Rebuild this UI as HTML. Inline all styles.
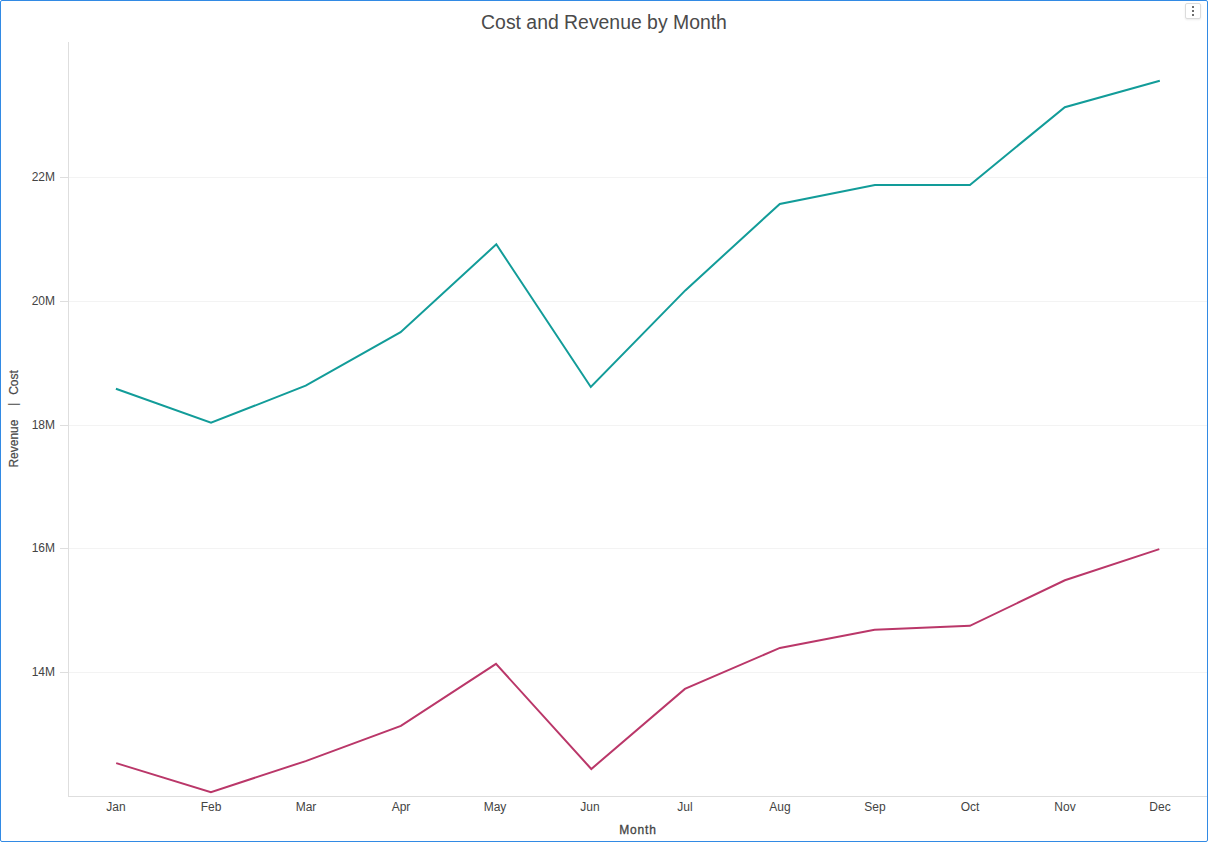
<!DOCTYPE html>
<html>
<head>
<meta charset="utf-8">
<style>
html,body{margin:0;padding:0;background:#fff;}
body{width:1208px;height:842px;overflow:hidden;position:relative;font-family:"Liberation Sans",sans-serif;}
.frame{position:absolute;left:0;top:0;width:1206px;height:840px;border:1px solid #328ae4;border-radius:2px;background:#fff;}
svg{position:absolute;left:0;top:0;}
.menu{position:absolute;left:1185px;top:3px;width:14px;height:14px;border:1px solid #dcdcdc;border-radius:2px;background:#fff;box-shadow:0 1px 2px rgba(0,0,0,0.08);}
.menu i{position:absolute;left:6px;width:2px;height:2px;background:#6e6e6e;}
</style>
</head>
<body>
<div class="frame"></div>
<svg width="1208" height="842" viewBox="0 0 1208 842">
  <g stroke="#f3f3f3" stroke-width="1" shape-rendering="crispEdges">
    <line x1="68" y1="177.5" x2="1207" y2="177.5"/>
    <line x1="68" y1="301.5" x2="1207" y2="301.5"/>
    <line x1="68" y1="425.5" x2="1207" y2="425.5"/>
    <line x1="68" y1="548.5" x2="1207" y2="548.5"/>
    <line x1="68" y1="672.5" x2="1207" y2="672.5"/>
  </g>
  <g stroke="#dedede" stroke-width="1" shape-rendering="crispEdges">
    <line x1="60" y1="177.5" x2="68" y2="177.5"/>
    <line x1="60" y1="301.5" x2="68" y2="301.5"/>
    <line x1="60" y1="425.5" x2="68" y2="425.5"/>
    <line x1="60" y1="548.5" x2="68" y2="548.5"/>
    <line x1="60" y1="672.5" x2="68" y2="672.5"/>
    <line x1="68.5" y1="42" x2="68.5" y2="797"/>
    <line x1="68" y1="796.5" x2="1207" y2="796.5"/>
  </g>
  <g font-family="Liberation Sans, sans-serif" font-size="12" fill="#444" text-anchor="end">
    <text x="55" y="181">22M</text>
    <text x="55" y="305">20M</text>
    <text x="55" y="429">18M</text>
    <text x="55" y="552">16M</text>
    <text x="55" y="676">14M</text>
  </g>
  <g font-family="Liberation Sans, sans-serif" font-size="12" fill="#444" text-anchor="middle">
    <text x="116" y="811">Jan</text>
    <text x="211" y="811">Feb</text>
    <text x="306" y="811">Mar</text>
    <text x="401" y="811">Apr</text>
    <text x="495" y="811">May</text>
    <text x="590" y="811">Jun</text>
    <text x="685" y="811">Jul</text>
    <text x="780" y="811">Aug</text>
    <text x="875" y="811">Sep</text>
    <text x="970" y="811">Oct</text>
    <text x="1065" y="811">Nov</text>
    <text x="1160" y="811">Dec</text>
  </g>
  <text x="638" y="834" font-family="Liberation Sans, sans-serif" font-size="12" fill="#444" stroke="#444" stroke-width="0.3" text-anchor="middle" letter-spacing="0.8">Month</text>
  <g font-family="Liberation Sans, sans-serif" font-size="12" fill="#484848" stroke="#484848" stroke-width="0.2">
    <text transform="translate(17.8,467.6) rotate(-90)">Revenue</text>
    <text transform="translate(16.9,404.3) rotate(-90)" text-anchor="middle" stroke="none">|</text>
    <text transform="translate(17.8,394.8) rotate(-90)">Cost</text>
  </g>
  <text x="604" y="29" font-family="Liberation Sans, sans-serif" font-size="19.4" fill="#4a4a4a" text-anchor="middle">Cost and Revenue by Month</text>
  <polyline fill="none" stroke="#129c99" stroke-width="2" stroke-linejoin="miter" points="115.9,388.8 211,422.8 305.7,385.7 400.6,332.2 496.3,244.3 590.8,387 685.3,290.4 779.8,203.9 874.9,184.9 969.9,184.9 1064.8,107.2 1159.8,80.8"/>
  <polyline fill="none" stroke="#ba3769" stroke-width="2" stroke-linejoin="miter" points="116.2,763.1 210.9,792.1 305.7,761.1 400.9,725.9 496,663.9 591.3,769 684.9,688.9 779.9,647.9 874.6,629.8 969.9,625.8 1064.9,580.3 1159.3,549.1"/>
</svg>
<div class="menu"><i style="top:2px"></i><i style="top:6px"></i><i style="top:10px"></i></div>
</body>
</html>
